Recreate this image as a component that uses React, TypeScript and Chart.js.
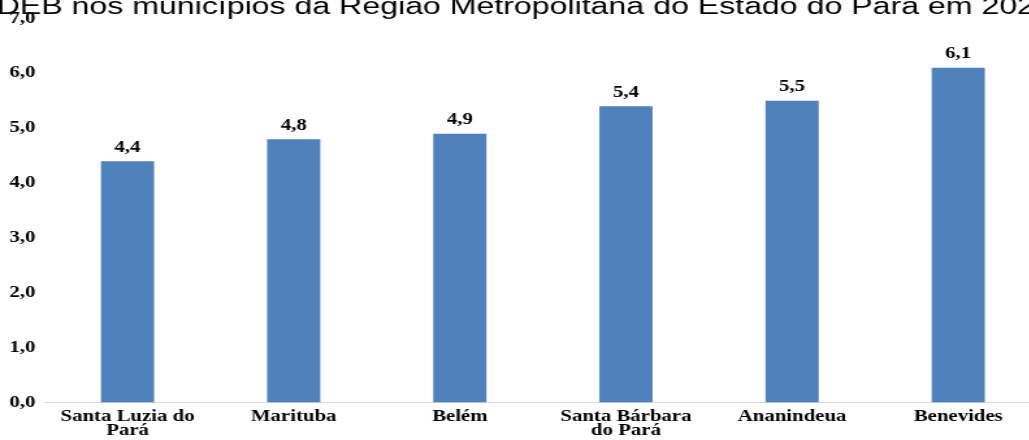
import React, { useEffect, useRef } from "react";
import { Chart, registerables } from "chart.js";

Chart.register(...registerables);

const titleText = "IDEB nos municípios da Região Metropolitana do Estado do Pará em 2021";
const categories: (string | string[])[] = [
  ["Santa Luzia do", "Pará"],
  "Marituba",
  "Belém",
  ["Santa Bárbara", "do Pará"],
  "Ananindeua",
  "Benevides",
];
const values = [4.4, 4.8, 4.9, 5.4, 5.5, 6.1];
const yMin = 0;
const yMax = 7;
const yStep = 1;

const fmt = (v: number) => v.toFixed(1).replace(".", ",");

const SCALE_X = 1.3;

const titlePlugin = {
  id: "clippedTitle",
  afterDraw(chart: any) {
    const ctx = chart.ctx;
    ctx.save();
    ctx.font = "24.7px 'Liberation Sans', Arial, sans-serif";
    ctx.fillStyle = "#000";
    ctx.textBaseline = "alphabetic";
    ctx.textAlign = "left";
    const iw = ctx.measureText("I").width;
    ctx.fillText(titleText, -iw - 2.6, 14);
    ctx.restore();
  },
};

const valueLabels = {
  id: "valueLabels",
  afterDatasetsDraw(chart: any) {
    const ctx = chart.ctx;
    const meta = chart.getDatasetMeta(0);
    ctx.save();
    ctx.font = "bold 16px 'Liberation Serif', 'Times New Roman', serif";
    ctx.fillStyle = "#000";
    ctx.textAlign = "center";
    ctx.textBaseline = "alphabetic";
    meta.data.forEach((bar: any, i: number) => {
      ctx.fillText(fmt(values[i]), bar.x, bar.y - 9.5);
    });
    ctx.restore();
  },
};

export default function App() {
  const ref = useRef<HTMLCanvasElement | null>(null);
  useEffect(() => {
    if (!ref.current) return;
    const chart = new Chart(ref.current, {
      type: "bar",
      data: {
        labels: categories,
        datasets: [
          {
            data: values,
            backgroundColor: "#4F81BD",
            borderWidth: 0,
            barPercentage: 0.32,
            categoryPercentage: 1,
          },
        ],
      },
      options: {
        responsive: false,
        animation: false,
        devicePixelRatio: 1,
        layout: { padding: { left: 0, right: 0, top: 18.5, bottom: 0 } },
        plugins: {
          legend: { display: false },
          title: { display: false },
          tooltip: { enabled: false },
        },
        scales: {
          x: {
            grid: { display: false, drawTicks: false },
            border: { display: true, color: "#d9d9d9", width: 1 },
            ticks: {
              color: "#000",
              font: { family: "'Liberation Serif', 'Times New Roman', serif", size: 16, weight: "bold", lineHeight: 0.85 },
              padding: 8,
              autoSkip: false,
              maxRotation: 0,
              minRotation: 0,
            },
            afterFit: (s: any) => {
              s.height = 37.5;
            },
          },
          y: {
            min: yMin,
            max: yMax,
            grid: { display: false, drawTicks: false },
            border: { display: false },
            ticks: {
              stepSize: yStep,
              color: "#000",
              padding: 7,
              font: { family: "'Liberation Serif', 'Times New Roman', serif", size: 16, weight: "bold" },
              callback: (v: any) => fmt(Number(v)),
            },
            afterFit: (s: any) => {
              s.width = 34.2;
            },
          },
        },
      },
      plugins: [titlePlugin, valueLabels],
    });
    return () => chart.destroy();
  }, []);

  return (
    <div
      style={{
        position: "absolute",
        left: 0,
        top: 0,
        width: 1029,
        height: 440,
        overflow: "hidden",
        background: "#fff",
      }}
    >
      <canvas
        ref={ref}
        width={801}
        height={440}
        style={{
          display: "block",
          width: "801px",
          height: "440px",
          transform: `scaleX(${SCALE_X})`,
          transformOrigin: "0 0",
        }}
      />
    </div>
  );
}
